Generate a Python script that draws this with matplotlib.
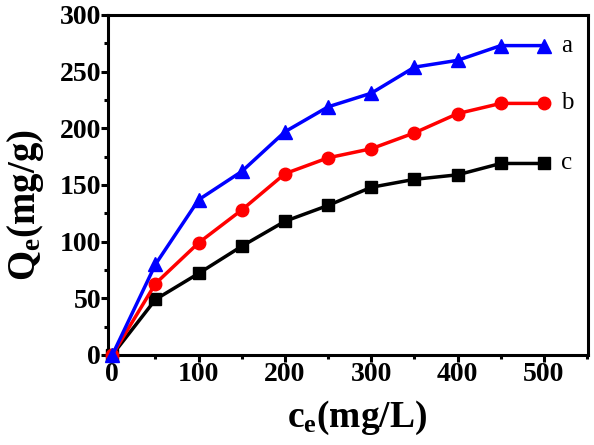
import matplotlib
matplotlib.use("Agg")
from matplotlib import pyplot as plt
from matplotlib.ticker import MultipleLocator

# concentration at equilibrium (mg/L)
ce = [0, 50, 100, 150, 200, 250, 300, 350, 400, 450, 500]
# adsorption capacity (mg/g) for the three samples
qe_a = [0, 80, 137, 162, 197, 219, 231, 254, 260, 273, 273]
qe_b = [0, 63, 99, 128, 160, 174, 182, 196, 213, 222, 222]
qe_c = [0, 49, 72, 96, 118, 132, 148, 155, 159, 169, 169]
series_names = ["a", "b", "c"]

plt.rcParams['font.family'] = ['Liberation Serif', 'DejaVu Serif']
plt.rcParams['mathtext.fontset'] = 'custom'
plt.rcParams['mathtext.rm'] = 'Liberation Serif'
plt.rcParams['mathtext.bf'] = 'Liberation Serif:bold'

fig = plt.figure(figsize=(5.94, 4.45), dpi=100)
ax = fig.add_axes([108 / 594, 90 / 445, 480 / 594, 340 / 445])

ax.plot(ce, qe_c, color="black", marker="s", markersize=8, lw=2.5, clip_on=False, zorder=3)
ax.plot(ce, qe_b, color="red", marker="o", markersize=9, lw=2.5, clip_on=False, zorder=4)
ax.plot(ce, qe_a, color="blue", marker="^", markersize=10, lw=2.5, clip_on=False, zorder=5)

for name, vals in zip(series_names, [qe_a, qe_b, qe_c]):
    ax.annotate(name, (ce[-1], vals[-1]), xytext=(12, 0), textcoords="offset points",
                va="center", ha="left", fontsize=18)

ax.set_xlim(-5, 551)
ax.set_ylim(0, 300)
ax.xaxis.set_major_locator(MultipleLocator(100))
ax.xaxis.set_minor_locator(MultipleLocator(50))
ax.yaxis.set_major_locator(MultipleLocator(50))
ax.yaxis.set_minor_locator(MultipleLocator(25))

for s in ax.spines.values():
    s.set_linewidth(2.2)
ax.tick_params(which="major", direction="out", length=5, width=2.2, labelsize=20, pad=0)
ax.tick_params(which="minor", direction="out", length=3, width=2.2)
for lab in ax.get_xticklabels() + ax.get_yticklabels():
    lab.set_fontweight("bold")

ax.set_xlabel(r"$\mathbf{c_e}$(mg/L)", fontsize=27, fontweight="bold", labelpad=-2)
ax.xaxis.set_label_coords(0.52, -0.13)
ax.set_ylabel(r"$\mathbf{Q_e}$(mg/g)", fontsize=28, fontweight="bold")
ax.yaxis.set_label_coords(-0.13, 0.44)

fig.savefig("out.png", dpi=100)
